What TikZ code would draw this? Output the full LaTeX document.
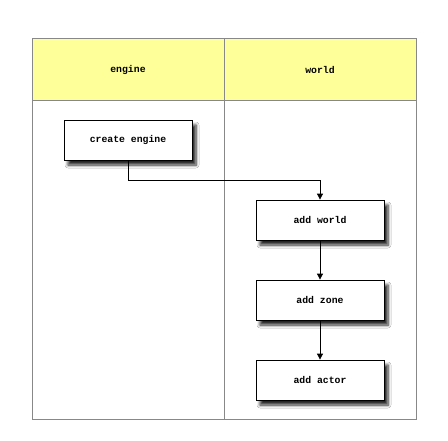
\documentclass[tikz,border=0pt]{standalone}
\usepackage{fontspec}
\setmonofont{Liberation Mono}
\usetikzlibrary{shadows.blur,arrows.meta}
\definecolor{hdr}{HTML}{FFFF99}
\definecolor{lanegray}{HTML}{888888}
\tikzset{
  stepbox/.style={draw=black, fill=white, minimum width=128pt, minimum height=40pt, inner sep=0pt,
    line width=0.8pt, blur shadow={shadow xshift=4pt, shadow yshift=-5pt, shadow blur radius=3pt, shadow blur steps=6, shadow opacity=85},
    font=\ttfamily\bfseries\fontsize{9.8}{11}\selectfont},
  lanetext/.style={font=\ttfamily\bfseries\fontsize{9.8}{11}\selectfont},
  flow/.style={draw=black, line width=0.8pt, -{Triangle[length=6pt,width=6pt]}}
}
\begin{document}
\begin{tikzpicture}[x=1pt,y=-1pt]
\useasboundingbox (0,0) rectangle (448,440);
\fill[white] (0,0) rectangle (448,440);
% lanes
\fill[hdr] (32,38) rectangle (416,100);
\draw[lanegray, line width=0.8pt] (32,38) rectangle (416,419);
\draw[lanegray, line width=0.8pt] (32,100) -- (416,100);
\draw[lanegray, line width=0.8pt] (224,38) -- (224,419);
\node[lanetext] (h1) at (128,70) {engine};
\node[lanetext] (h2) at (320,70) {world};
% boxes
\node[stepbox] (ce) at (128,140) {create engine};
\node[stepbox] (aw) at (320,220) {add world};
\node[stepbox] (az) at (320,300) {add zone};
\node[stepbox] (aa) at (320,380) {add actor};
% connectors
\draw[flow] (ce.south) |- (320,180) -- (aw.north);
\draw[flow] (aw) -- (az);
\draw[flow] (az) -- (aa);
\end{tikzpicture}
\end{document}
